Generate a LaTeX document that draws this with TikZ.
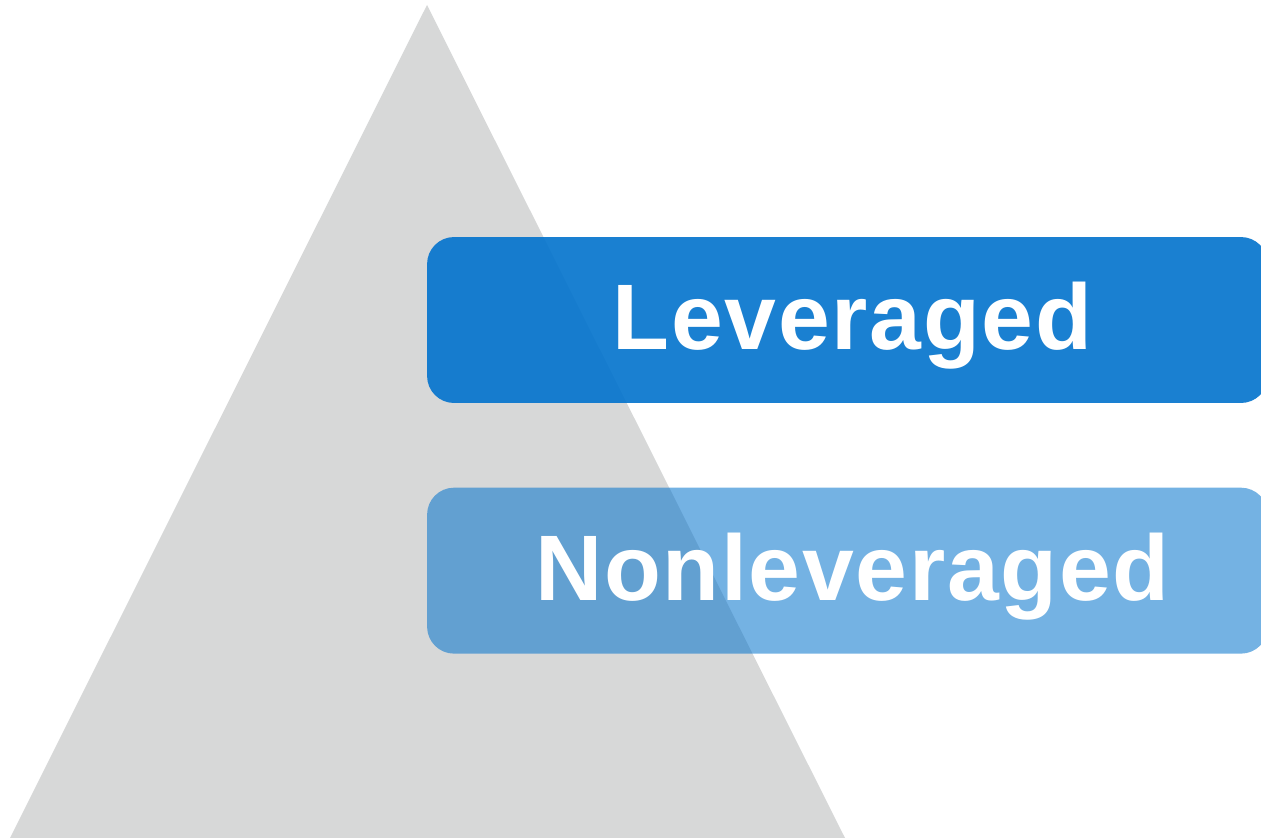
\documentclass[tikz,border=0pt]{standalone}
\usepackage{fontspec}
\setmainfont{Liberation Sans}
\newfontfamily\tierfont[LetterSpace=1.8]{Liberation Sans}
\usetikzlibrary{positioning}

\definecolor{pyramidgray}{HTML}{D7D8D8}
\definecolor{tierblue}{HTML}{0273CD}

\tikzset{
    tier/.style={fill=tierblue, rounded corners=0.54cm, inner sep=0pt,
        minimum width=16.82cm, minimum height=3.32cm,
        text=white, text opacity=1, font=\tierfont\fontsize{53}{60}\selectfont\bfseries,
        text height=1.5cm, text depth=0.3cm,
        execute at begin node={\hspace*{0.2cm}}},
}

\begin{document}
\begin{tikzpicture}[x=0.02cm, y=-0.02cm]
        % frame
            \clip (0,0) rectangle (1261,838);
            \path[fill=white] (0,0) rectangle (1261,838);
        % pyramid
            \fill[pyramidgray] (427,5) -- (10,838) -- (845,838) -- cycle;
        % tiers
            \node[tier, fill opacity=0.9] (leveraged) at (847.5,320) {Leveraged};
            \node[tier, fill opacity=0.55, below=1.68cm of leveraged] (nonleveraged) {Nonleveraged};
    \end{tikzpicture}
\end{document}
